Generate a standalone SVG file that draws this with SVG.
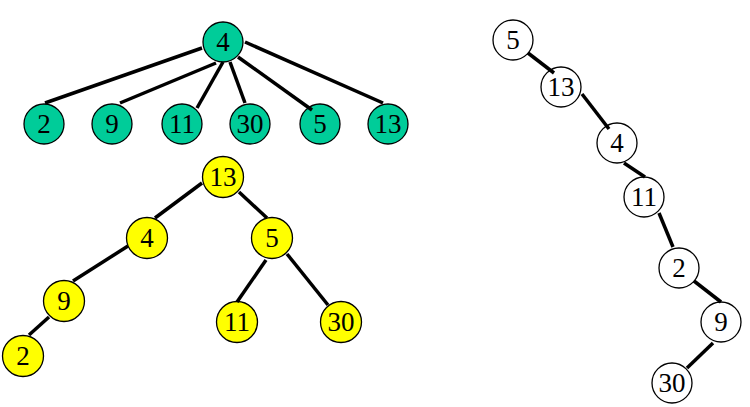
<svg xmlns="http://www.w3.org/2000/svg" width="750" height="407" viewBox="0 0 750 407">
<style>
circle{stroke:#000;stroke-width:1.3}
.g{fill:#00CC99}
.y{fill:#FFFF00}
.w{fill:#FFFFFF}
text{font-size:27px;text-anchor:middle;fill:#000}
#connectors line{stroke:#000;stroke-width:3.5}
</style>
<rect width="750" height="407" fill="#fff"/>
<g font-family="'Liberation Serif', 'Times New Roman', serif">
<g id="g4"><circle class="g" cx="223" cy="42" r="20"/><text x="223" y="51">4</text></g>
<g id="g2"><circle class="g" cx="44" cy="124" r="20"/><text x="44" y="133">2</text></g>
<g id="g9"><circle class="g" cx="112" cy="124" r="20"/><text x="112" y="133">9</text></g>
<g id="g11"><circle class="g" cx="182" cy="124" r="20"/><text x="182" y="133">11</text></g>
<g id="g30"><circle class="g" cx="250" cy="124" r="20"/><text x="250" y="133">30</text></g>
<g id="g5"><circle class="g" cx="320" cy="124" r="20"/><text x="320" y="133">5</text></g>
<g id="g13"><circle class="g" cx="388" cy="124" r="20"/><text x="388" y="133">13</text></g>

<g id="y13"><circle class="y" cx="223" cy="177" r="20.5"/><text x="223" y="186">13</text></g>
<g id="y4"><circle class="y" cx="147" cy="238" r="20.5"/><text x="147" y="247">4</text></g>
<g id="y5"><circle class="y" cx="272" cy="238" r="20.5"/><text x="272" y="247">5</text></g>
<g id="y9"><circle class="y" cx="64" cy="301" r="20.5"/><text x="64" y="310">9</text></g>
<g id="y2"><circle class="y" cx="23" cy="356" r="20.5"/><text x="23" y="365">2</text></g>
<g id="y11"><circle class="y" cx="237" cy="322" r="20.5"/><text x="237" y="331">11</text></g>
<g id="y30"><circle class="y" cx="341" cy="322" r="20.5"/><text x="341" y="331">30</text></g>

<g id="w5"><circle class="w" cx="513" cy="40" r="20"/><text x="513" y="49">5</text></g>
<g id="w13"><circle class="w" cx="561" cy="87" r="20"/><text x="561" y="96">13</text></g>
<g id="w4"><circle class="w" cx="617" cy="143" r="20"/><text x="617" y="152">4</text></g>
<g id="w11"><circle class="w" cx="644" cy="197" r="20"/><text x="644" y="206">11</text></g>
<g id="w2"><circle class="w" cx="679" cy="268" r="20"/><text x="679" y="277">2</text></g>
<g id="w9"><circle class="w" cx="721" cy="322" r="20"/><text x="721" y="331">9</text></g>
<g id="w30"><circle class="w" cx="672" cy="383" r="20"/><text x="672" y="392">30</text></g>
</g>

<g id="connectors">
<line x1="202" y1="48" x2="45" y2="103"/>
<line x1="216" y1="63" x2="120" y2="103"/>
<line x1="223" y1="62" x2="197" y2="108"/>
<line x1="230" y1="62" x2="245" y2="103"/>
<line x1="238" y1="57" x2="312" y2="110"/>
<line x1="245" y1="42" x2="383" y2="103"/>

<line x1="202" y1="183" x2="155" y2="218"/>
<line x1="239" y1="192" x2="267" y2="218"/>
<line x1="128" y1="246" x2="73" y2="281"/>
<line x1="49" y1="317" x2="29" y2="335"/>
<line x1="266" y1="260" x2="237" y2="302"/>
<line x1="287" y1="254" x2="328" y2="305"/>

<line x1="528" y1="53" x2="554" y2="73"/>
<line x1="582" y1="94" x2="609" y2="129"/>
<line x1="624" y1="163" x2="645" y2="177"/>
<line x1="659" y1="213" x2="673" y2="247"/>
<line x1="694" y1="281" x2="721" y2="302"/>
<line x1="713" y1="343" x2="687" y2="368"/>
</g>
</svg>
